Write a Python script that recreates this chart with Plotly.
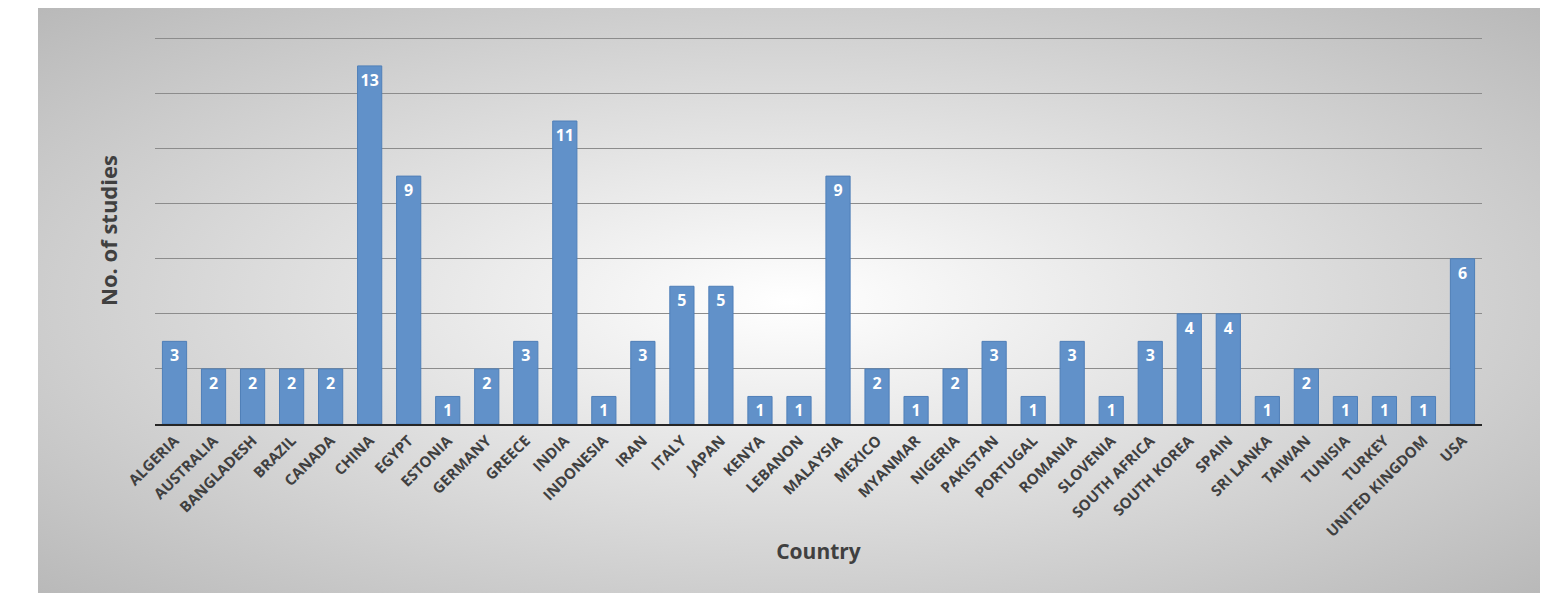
import plotly.graph_objects as go
import base64

countries = ["ALGERIA","AUSTRALIA","BANGLADESH","BRAZIL","CANADA","CHINA","EGYPT","ESTONIA","GERMANY","GREECE","INDIA","INDONESIA","IRAN","ITALY","JAPAN","KENYA","LEBANON","MALAYSIA","MEXICO","MYANMAR","NIGERIA","PAKISTAN","PORTUGAL","ROMANIA","SLOVENIA","SOUTH AFRICA","SOUTH KOREA","SPAIN","SRI LANKA","TAIWAN","TUNISIA","TURKEY","UNITED KINGDOM","USA"]
studies = [3,2,2,2,2,13,9,1,2,3,11,1,3,5,5,1,1,9,2,1,2,3,1,3,1,3,4,4,1,2,1,1,1,6]

svg = ('<svg xmlns="http://www.w3.org/2000/svg" width="1502" height="593">'
       '<defs><radialGradient id="g" cx="50%" cy="50%" r="75%">'
       '<stop offset="0%" stop-color="#ffffff"/><stop offset="100%" stop-color="#b4b4b4"/>'
       '</radialGradient></defs><rect width="1502" height="593" fill="url(#g)"/></svg>')
uri = "data:image/svg+xml;base64," + base64.b64encode(svg.encode()).decode()

fig = go.Figure(go.Bar(
    x=countries, y=studies, text=[f"<b>{v}</b>" for v in studies], textposition="inside",
    insidetextanchor="end", textangle=0,
    textfont=dict(color="white", size=16, family="Open Sans"),
    marker=dict(color="#6191c9", line=dict(color="#4f7fb8", width=1)),
))
W, H = 1541, 585
l, t = 147, 29
pw, ph = 1327, 387
r, b = W - l - pw, H - t - ph
fig.add_layout_image(dict(source=uri, xref="paper", yref="paper",
    x=(30 - l) / pw, y=1 + (t + 3) / ph, sizex=1502 / pw, sizey=593 / ph,
    sizing="stretch", xanchor="left", yanchor="top", layer="below"))
fig.update_layout(
    width=W, height=H, margin=dict(l=l, r=r, t=t, b=b),
    paper_bgcolor="white", plot_bgcolor="rgba(0,0,0,0)",
    bargap=0.38, showlegend=False,
    font=dict(family="Open Sans", color="#404040"),
    xaxis=dict(tickangle=-45, automargin=False,
               tickfont=dict(size=15, color="#404040", family="Open Sans"),
               title=dict(text="<b>Country</b>", font=dict(size=21), standoff=5),
               showline=True, linecolor="#262626", linewidth=2, ticks=""),
    yaxis=dict(range=[0, 14.05], dtick=2, showticklabels=False, gridcolor="#8c8c8c",
               zeroline=False, automargin=False,
               title=dict(text="<b>No. of studies</b>", font=dict(size=22), standoff=30)),
)
fig.update_xaxes(tickprefix="<b>", ticksuffix="</b>")
fig.write_html("out.html")
